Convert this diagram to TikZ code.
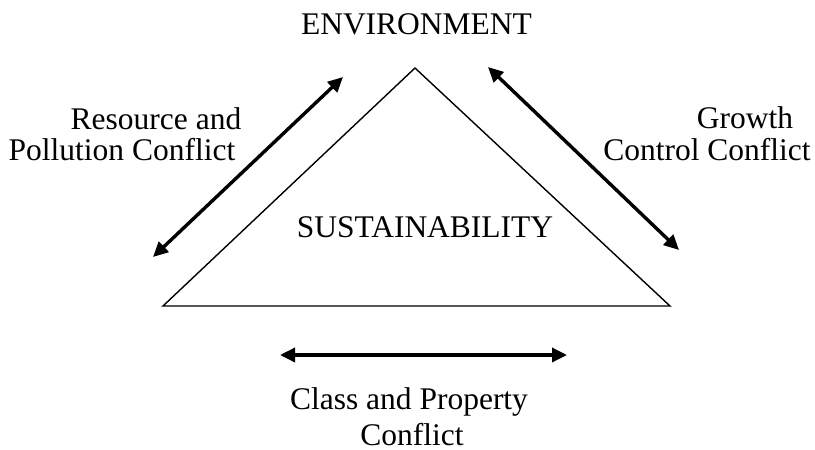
\documentclass[tikz,border=0pt]{standalone}
\usepackage{fontspec}
\setmainfont{Liberation Serif}
\usetikzlibrary{arrows.meta}
\begin{document}
\begin{tikzpicture}[x=1pt,y=-1pt,
  lbl/.style={inner sep=0pt,anchor=base,font=\fontsize{31.5}{36}\selectfont},
  tri/.style={line width=1.4pt,line join=miter},
  conflict/.style={line width=3.4pt,{Triangle[length=15pt,width=14pt]}-{Triangle[length=15pt,width=14pt]}}]
\useasboundingbox (0,0) rectangle (815,450);
% corners of the triangle
\coordinate (apex) at (415,68);
\coordinate (bl) at (163,306);
\coordinate (br) at (670,306);
\draw[tri] (apex) -- (br) -- (bl) -- cycle;
% ends of the conflict arrows
\coordinate (l1) at (153,257);
\coordinate (l2) at (343,77);
\coordinate (r1) at (488,67);
\coordinate (r2) at (679,250);
\coordinate (b1) at (280,355);
\coordinate (b2) at (567,355);
\draw[conflict] (l1) -- (l2);
\draw[conflict] (r1) -- (r2);
\draw[conflict] (b1) -- (b2);
% labels
\node[lbl] (env) at (416.5,34) {ENVIRONMENT};
\node[lbl] (sus) at (425,237) {SUSTAINABILITY};
\node[lbl] (res1) at (156,129) {Resource and};
\node[lbl] (res2) at (122,160) {Pollution Conflict};
\node[lbl] (gro1) at (745,128) {Growth};
\node[lbl] (gro2) at (707,160) {Control Conflict};
\node[lbl] (cls1) at (409,409) {Class and Property};
\node[lbl] (cls2) at (412,445) {Conflict};
\end{tikzpicture}
\end{document}
